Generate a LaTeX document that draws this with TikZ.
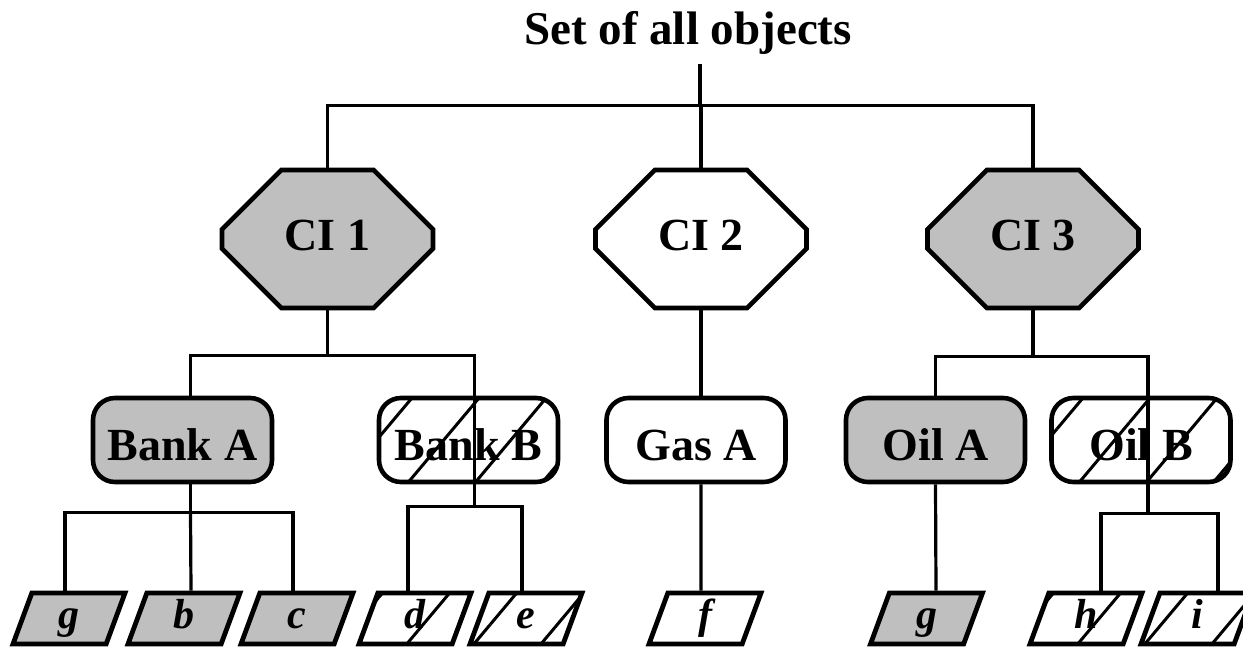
\documentclass[tikz,border=0pt]{standalone}
\usepackage{fontspec}
\setmainfont{Liberation Serif}
\usetikzlibrary{shapes.misc, shapes.geometric, patterns.meta}

\begin{document}
\begin{tikzpicture}[x=0.5pt, y=-0.5pt, line width=1.6pt,
  ci/.style={draw, line width=2.3pt, chamfered rectangle, chamfered rectangle xsep=24pt, chamfered rectangle ysep=24pt, minimum width=105.5pt, minimum height=69pt, inner sep=0pt, text height=14pt, text depth=2.5pt, font=\fontsize{23}{23}\selectfont\bfseries},
  grp/.style={draw, line width=2.3pt, rounded corners=11pt, minimum width=89.5pt, minimum height=42pt, inner sep=0pt, text height=21pt, text depth=1pt, font=\fontsize{23}{23}\selectfont\bfseries},
  obj/.style={draw, line width=2.4pt, trapezium, trapezium left angle=63, trapezium right angle=117, trapezium stretches body, minimum width=56pt, minimum height=25.5pt, inner sep=0pt, text height=14pt, text depth=4.5pt, font=\fontsize{21}{21}\selectfont\bfseries\itshape},
  dark/.style={fill=black!25},
  lite/.style={fill=white},
  hatched/.style={pattern={Lines[angle=50,distance=25.7pt,line width=1.5pt]}}]
\useasboundingbox (0,0) rectangle (1243,649);
\node[inner sep=4pt, font=\fontsize{23.5}{23.5}\selectfont\bfseries] (top) at (688,33) {Set of all objects};
\node[ci, dark] (ci1) at (327.5,239) {CI 1};
\node[ci, lite] (ci2) at (701,239) {CI 2};
\node[ci, dark] (ci3) at (1033,239) {CI 3};
\node[grp, dark] (bka) at (182.5,440) {Bank A};
\node[grp, hatched] (bkb) at (468.5,440) {Bank B};
\node[grp, lite] (gsa) at (696,440) {Gas A};
\node[grp, dark] (oia) at (935.5,440) {Oil A};
\node[grp, hatched] (oib) at (1141,440) {Oil B};
\node[obj, dark] (lg) at (69,618.5) {g};
\node[obj, dark] (lb) at (184,618.5) {b};
\node[obj, dark] (lc) at (297,618.5) {c};
\node[obj, hatched] (ld) at (415,618.5) {d};
\node[obj, hatched] (le) at (526,618.5) {e};
\node[obj, lite] (lf) at (705,618.5) {f};
\node[obj, dark] (lg2) at (926.5,618.5) {g};
\node[obj, hatched] (lh) at (1086,618.5) {h};
\node[obj, hatched] (li) at (1197,618.5) {i};
\draw ([xshift=6pt]top.south) -- ++(0,41) coordinate (b0);
\draw (ci1.north) |- (b0) -| (ci3.north);
\draw (b0) -| (ci2.north);
\draw (ci1.south) -- ++(0,45) coordinate (b1);
\draw (b1) -| ([xshift=4pt]bka.north);
\draw (b1) -| ([xshift=3pt]bkb.north) -- ([xshift=3pt]bkb.south) -- ++(0,23) coordinate (b2);
\draw (ci2.south) -- ([xshift=2.5pt]gsa.north);
\draw (ci3.south) -- ++(0,46) coordinate (b4);
\draw (oia.north) |- (b4) -| ([xshift=3.5pt]oib.north) -- ([xshift=3.5pt]oib.south) -- ++(0,29) coordinate (b5);
\draw ([xshift=4pt]bka.south) -- ++(0,28) coordinate (b3);
\draw ([xshift=-2pt]lg.north) |- (b3) -| ([xshift=-2pt]lc.north);
\draw (b3) -- ([xshift=3.5pt]lb.north);
\draw ([xshift=-3.5pt]ld.north) |- (b2) -| ([xshift=-2pt]le.north);
\draw ([xshift=2.5pt]gsa.south) -- ([xshift=-2pt]lf.north);
\draw (oia.south) -- ([xshift=4.75pt]lg2.north);
\draw ([xshift=7.5pt]lh.north) |- (b5) -| ([xshift=10.5pt]li.north);
\end{tikzpicture}
\end{document}
